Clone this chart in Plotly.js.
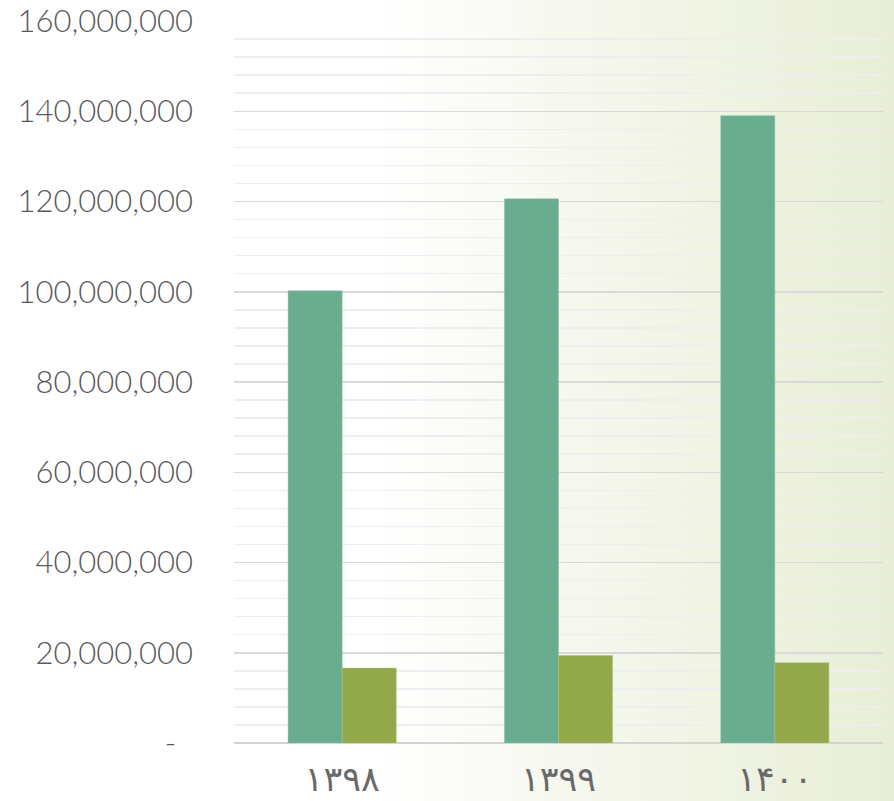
<!DOCTYPE html>
<html>
<head>
<meta charset="utf-8">
<script src="https://cdn.plot.ly/plotly-3.0.1.min.js"></script>
<style>
  html, body { margin:0; padding:0; }
  body { width:894px; height:801px; background: linear-gradient(to right, #ffffff 0%, #ffffff 42%, #f3f6ea 70%, #e8eed6 100%); }
  #chart { width:894px; height:801px; }
</style>
</head>
<body>
<div id="chart"></div>
<script>
const categories = ["۱۳۹۸", "۱۳۹۹", "۱۴۰۰"];
const seriesA = [100200000, 120600000, 139000000];
const seriesB = [16600000, 19400000, 17800000];
const yTickVals = [0, 20000000, 40000000, 60000000, 80000000, 100000000, 120000000, 140000000, 160000000];
const yTickText = ["-\u00a0\u00a0", "20,000,000", "40,000,000", "60,000,000", "80,000,000", "100,000,000", "120,000,000", "140,000,000", "160,000,000"];

const traces = [
  { type: "bar", x: categories, y: seriesA, marker: { color: "#69ac90", line: { color: "#8cc0a8", width: 0.5 } }, hoverinfo: "y" },
  { type: "bar", x: categories, y: seriesB, marker: { color: "#93a84b", line: { color: "#b2c474", width: 0.5 } }, hoverinfo: "y" }
];

const layout = {
  width: 894, height: 801,
  paper_bgcolor: "rgba(0,0,0,0)",
  plot_bgcolor: "rgba(0,0,0,0)",
  margin: { l: 234, r: 11, t: 21, b: 58 },
  showlegend: false,
  barmode: "group",
  bargap: 0.5,
  bargroupgap: 0,
  font: { family: "Lato, 'Open Sans', sans-serif", color: "#595959" },
  xaxis: {
    type: "category",
    showgrid: false,
    showline: false,
    zeroline: false,
    ticks: "",
    ticklabelstandoff: 12,
    tickfont: { family: "'DejaVu Sans', sans-serif", size: 35, color: "#6a6a6a", weight: 400 }
  },
  yaxis: {
    range: [0, 160000000],
    tickvals: yTickVals,
    ticktext: yTickText,
    ticks: "",
    ticklabelstandoff: 40,
    tickfont: { family: "Lato, 'Open Sans', sans-serif", size: 31, color: "#595959", weight: 300 },
    showgrid: true,
    gridcolor: "#d9d9d9",
    gridwidth: 1.5,
    zeroline: true,
    zerolinecolor: "#d4d4d4",
    zerolinewidth: 2,
    minor: { dtick: 4000000, showgrid: true, gridcolor: "#eeeeee", gridwidth: 1.5 }
  }
};

Plotly.newPlot("chart", traces, layout, { displayModeBar: false, staticPlot: true });
</script>
</body>
</html>
